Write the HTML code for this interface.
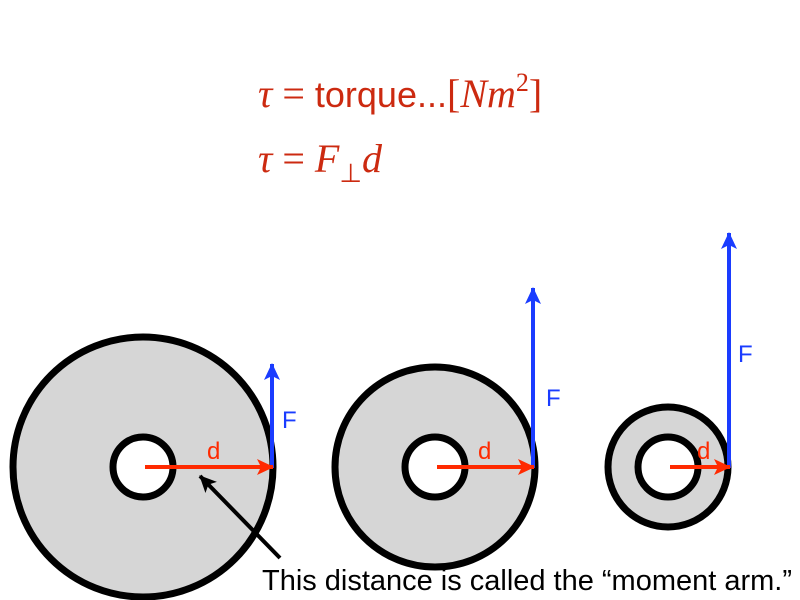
<!DOCTYPE html>
<html><head><meta charset="utf-8"><style>
html,body{margin:0;padding:0;background:#fff;width:800px;height:600px;overflow:hidden}
</style></head><body>
<svg width="800" height="600" xmlns="http://www.w3.org/2000/svg">
<defs>
<marker id="ar" markerWidth="18" markerHeight="18" refX="16" refY="8" orient="auto" markerUnits="userSpaceOnUse"><path d="M0,0 L17,8 L0,16 L4,8 z" fill="#ff2a00"/></marker>
<marker id="ab" markerWidth="18" markerHeight="22" refX="16" refY="8" orient="auto" markerUnits="userSpaceOnUse"><path d="M0,0 L17,8 L0,16 L4,8 z" fill="#1a3cff"/></marker>
<marker id="ak" markerWidth="20" markerHeight="20" refX="16" refY="8" orient="auto" markerUnits="userSpaceOnUse"><path d="M0,0 L17,8 L0,16 L4,8 z" fill="#000"/></marker>
</defs>
<g font-family="Liberation Serif, serif" fill="#cc2a10" font-size="40">
<text x="258" y="107"><tspan font-style="italic">τ</tspan> = <tspan font-family="Liberation Sans, sans-serif" font-size="36">torque...</tspan>[<tspan font-style="italic">Nm</tspan><tspan font-size="26" dy="-16">2</tspan><tspan dy="16">]</tspan></text>
<text x="258" y="172"><tspan font-style="italic">τ</tspan> = <tspan font-style="italic">F</tspan><tspan font-size="26" dy="10">⊥</tspan><tspan font-style="italic" dy="-10">d</tspan></text>
</g>
<g stroke="#000" stroke-width="7" fill="#d6d6d6">
<circle cx="143" cy="467" r="130"/>
<circle cx="435" cy="467" r="100"/>
<circle cx="668" cy="467" r="60"/>
</g>
<g stroke="#000" stroke-width="7" fill="#fff">
<circle cx="143" cy="467" r="30"/>
<circle cx="435" cy="467" r="30"/>
<circle cx="668" cy="467" r="30"/>
</g>
<g stroke="#1a3cff" stroke-width="4">
<line x1="272" y1="468" x2="272" y2="364" marker-end="url(#ab)"/>
<line x1="533" y1="468" x2="533" y2="288" marker-end="url(#ab)"/>
<line x1="729" y1="468" x2="729" y2="233" marker-end="url(#ab)"/>
</g>
<g stroke="#ff2a00" stroke-width="4">
<line x1="145" y1="467" x2="273" y2="467" marker-end="url(#ar)"/>
<line x1="437" y1="467" x2="534" y2="467" marker-end="url(#ar)"/>
<line x1="670" y1="467" x2="730" y2="467" marker-end="url(#ar)"/>
</g>
<g font-family="Liberation Sans, sans-serif" font-size="24">
<text x="207" y="459" fill="#ff2a00">d</text>
<text x="478" y="459" fill="#ff2a00">d</text>
<text x="697" y="459" fill="#ff2a00">d</text>
<text x="282" y="428" fill="#1a3cff">F</text>
<text x="546" y="406" fill="#1a3cff">F</text>
<text x="738" y="362" fill="#1a3cff">F</text>
</g>
<line x1="280" y1="558" x2="200" y2="476" stroke="#000" stroke-width="4" marker-end="url(#ak)"/>
<text x="262" y="590" font-family="Liberation Sans, sans-serif" font-size="29" fill="#000" textLength="530">This distance is called the “moment arm.”</text>
</svg>
</body></html>
